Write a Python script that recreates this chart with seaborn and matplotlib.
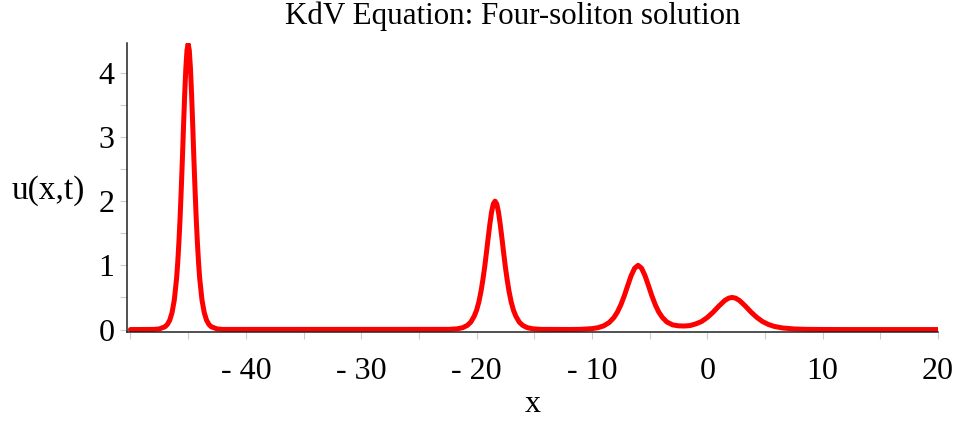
import matplotlib
matplotlib.use("Agg")
import matplotlib.pyplot as plt
from matplotlib.ticker import MultipleLocator
import seaborn as sns
import pandas as pd

# ---- data ----
x_vals = [
    -50.0, -48.0, -47.5, -47.0, -46.8, -46.6, -46.4, -46.2, -46.0, -45.9, -45.8,
    -45.7, -45.6, -45.5, -45.4, -45.3, -45.2, -45.1, -45.0, -44.9, -44.8, -44.7,
    -44.6, -44.5, -44.4, -44.3, -44.2, -44.1, -44.0, -43.8, -43.6, -43.4, -43.2,
    -43.0, -42.5, -42.0,
    -22.4, -21.7, -21.2, -20.8, -20.5, -20.2, -20.0, -19.8, -19.6, -19.45, -19.3,
    -19.15, -19.0, -18.85, -18.7, -18.55, -18.4, -18.25, -18.1, -17.95, -17.8,
    -17.65, -17.5, -17.35, -17.2, -17.0, -16.8, -16.6, -16.3, -16.0, -15.6, -15.1,
    -14.4,
    -12.0, -11.0, -10.0, -9.5, -9.0, -8.5, -8.1, -7.8, -7.5, -7.2, -6.9, -6.6,
    -6.3, -6.0, -5.7, -5.4, -5.1, -4.8, -4.5, -4.2, -3.9, -3.5, -3.0, -2.5, -2.0,
    -1.5, -1.0,
    -0.5, 0.0, 0.5, 1.0, 1.5, 1.85, 2.15, 2.45, 2.8, 3.3, 3.8, 4.3, 4.8, 5.3, 5.8,
    6.5, 7.5, 8.5, 10.0, 12.0, 20.0,
]
u_vals = [
    0.0, 0.002, 0.010, 0.044, 0.080, 0.144, 0.26, 0.46, 0.80, 1.05, 1.36,
    1.73, 2.17, 2.65, 3.17, 3.66, 4.07, 4.35, 4.45, 4.35, 4.07, 3.66,
    3.17, 2.65, 2.17, 1.73, 1.36, 1.05, 0.80, 0.46, 0.26, 0.144, 0.080,
    0.044, 0.010, 0.002,
    0.003, 0.011, 0.029, 0.065, 0.116, 0.21, 0.30, 0.43, 0.61, 0.78, 0.97,
    1.19, 1.42, 1.64, 1.83, 1.956, 2.0, 1.956, 1.83, 1.64, 1.42,
    1.19, 0.97, 0.78, 0.61, 0.43, 0.30, 0.21, 0.116, 0.065, 0.029, 0.011,
    0.003,
    0.001, 0.0034, 0.014, 0.028, 0.056, 0.110, 0.186, 0.27, 0.382, 0.523, 0.684, 0.84,
    0.956, 1.0, 0.956, 0.84, 0.684, 0.523, 0.382, 0.27, 0.19, 0.117, 0.072, 0.058, 0.055,
    0.062, 0.088,
    0.125, 0.188, 0.270, 0.365, 0.451, 0.489, 0.5, 0.489, 0.451, 0.365, 0.270, 0.188, 0.123, 0.079, 0.049,
    0.025, 0.0094, 0.0035, 0.001, 0.0, 0.0,
]
x_ticks = [-40, -30, -20, -10, 0, 10, 20]
x_tick_labels = ["- 40", "- 30", "- 20", "- 10", "0", "10", "20"]
y_ticks = [0, 1, 2, 3, 4]
y_tick_labels = ["0", "1", "2", "3", "4"]
title = "KdV Equation: Four-soliton solution"
x_label = "x"
y_label = "u(x,t)"

df = pd.DataFrame({"x": x_vals, "u": u_vals})

sns.set_theme(style="white")
plt.rcParams["font.family"] = ["Liberation Serif", "DejaVu Serif"]
plt.rcParams["text.color"] = "black"
plt.rcParams["xtick.labelcolor"] = "black"
plt.rcParams["ytick.labelcolor"] = "black"
plt.rcParams["axes.labelcolor"] = "black"

fig = plt.figure(figsize=(9.57, 4.22), dpi=100)
ax = fig.add_axes([0.1327, 0.213, 0.8475, 0.686])

sns.lineplot(data=df, x="x", y="u", color="#ff0000", linewidth=3.6, ax=ax,
             sort=False, estimator=None)
for l in ax.lines:
    l.set_solid_joinstyle("round")
    l.set_solid_capstyle("round")

ax.set_xlim(-50.3, 20)
ax.set_ylim(-0.04, 4.47)

for s in ["top", "right"]:
    ax.spines[s].set_visible(False)
for s in ["left", "bottom"]:
    ax.spines[s].set_color("#222222")
    ax.spines[s].set_linewidth(1.1)

ax.set_xticks(x_ticks)
ax.set_xticklabels(x_tick_labels, fontsize=23, color="black")
ax.set_yticks(y_ticks)
ax.set_yticklabels(y_tick_labels, fontsize=23, color="black")
ax.xaxis.set_minor_locator(MultipleLocator(5))
ax.yaxis.set_minor_locator(MultipleLocator(0.5))
ax.tick_params(axis="both", which="both", direction="out", length=5, width=0.8,
               color="#cccccc", bottom=True, left=True)
ax.tick_params(axis="x", which="major", pad=13)
ax.tick_params(axis="y", which="major", pad=4)

ax.set_xlabel(x_label, fontsize=23, color="black")
ax.xaxis.set_label_coords(0.5, -0.25)
ax.xaxis.label.set_va("center")
ax.set_ylabel(y_label, fontsize=24, rotation=0, va="center", ha="center", color="black")
ax.yaxis.set_label_coords(-0.097, 0.49)

fig.text(0.536, 0.997, title, ha="center", va="top", fontsize=22.3, color="black")

fig.savefig("out.png", dpi=100)
